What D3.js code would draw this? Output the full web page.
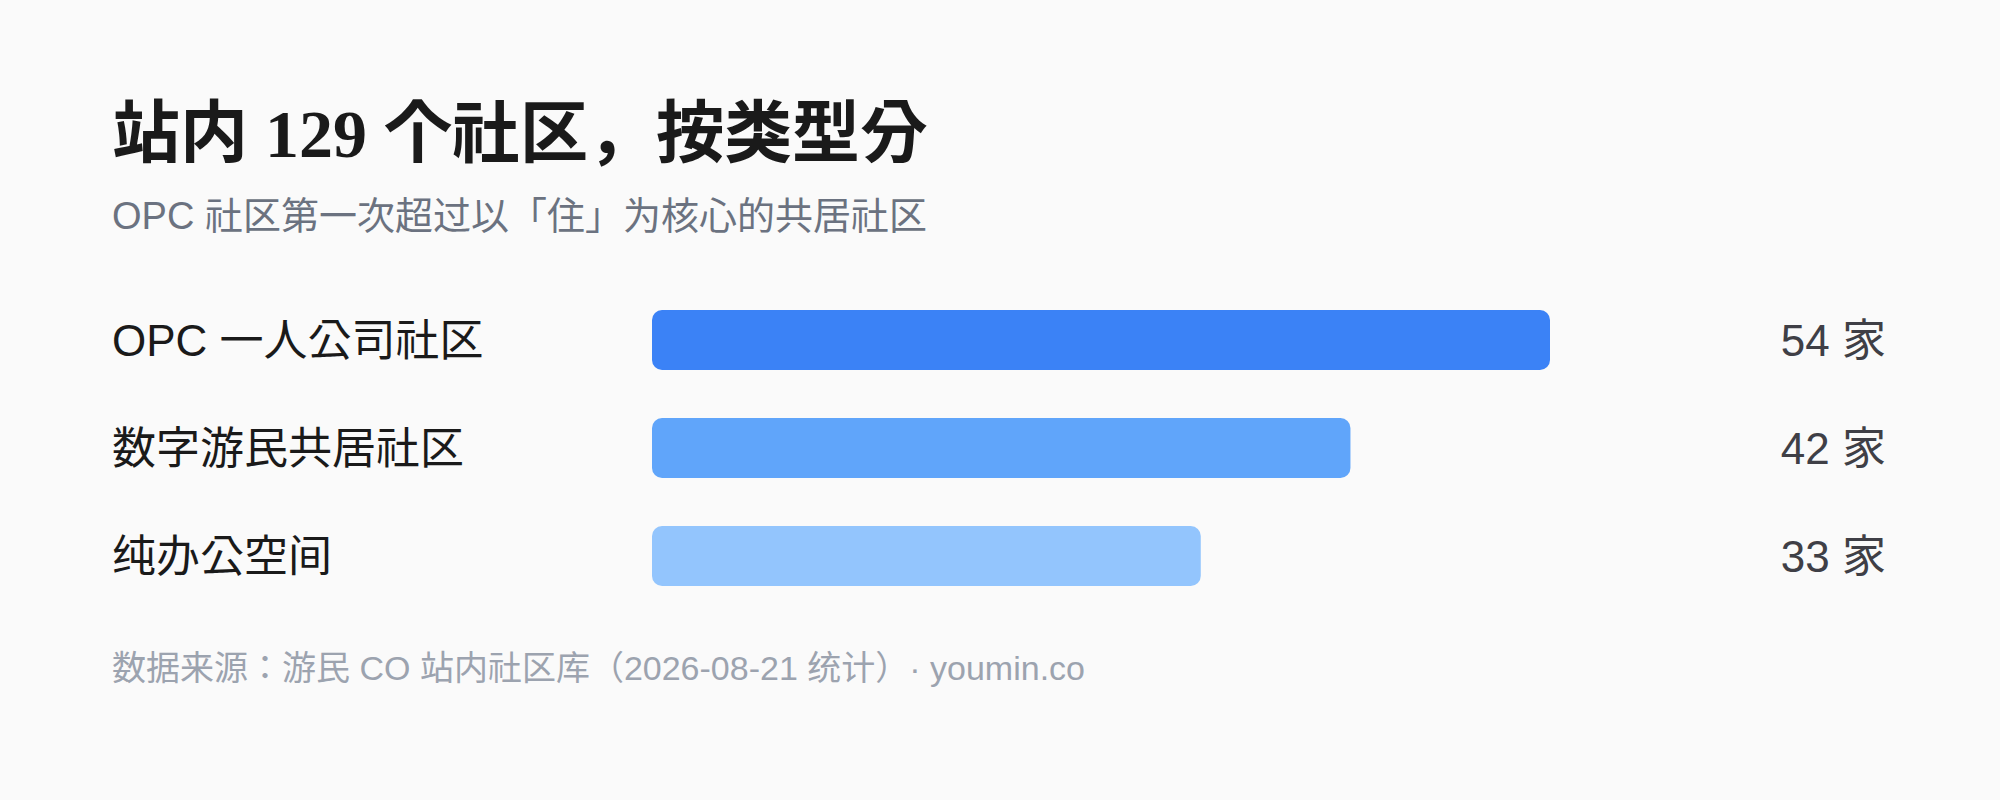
<!DOCTYPE html>
<html>
<head>
<meta charset="utf-8">
<script src="https://cdn.jsdelivr.net/npm/d3@7"></script>
<style>
  html, body { margin: 0; padding: 0; background: #fafafa; }
  svg { display: block; }
  svg text { text-spacing-trim: space-all; }
</style>
</head>
<body>
<svg id="chart" width="2000" height="800"></svg>
<script>
const titleText = "站内 129 个社区，按类型分";
const subtitleText = "OPC 社区第一次超过以「住」为核心的共居社区";
const footerText = "数据来源：游民 CO 站内社区库（2026-08-21 统计）· youmin.co";
const categories = ["OPC 一人公司社区", "数字游民共居社区", "纯办公空间"];
const values = [54, 42, 33];
const unit = "家";
const colors = ["#3b82f6", "#60a5fa", "#93c5fd"];

const svg = d3.select("#chart");
const sans = "'Liberation Sans', Arial, 'Noto Sans CJK KR', sans-serif";
const serif = "'Liberation Serif', 'Times New Roman', 'Noto Sans CJK KR', serif";

svg.append("rect").attr("width", 2000).attr("height", 800).attr("fill", "#fafafa");

svg.append("text")
  .attr("x", 112).attr("y", 157)
  .attr("font-family", serif).attr("font-weight", 700).attr("font-size", 68)
  .attr("fill", "#1a1a1a")
  .text(titleText);

svg.append("text")
  .attr("x", 112).attr("y", 229)
  .attr("font-family", sans).attr("font-size", 38)
  .attr("fill", "#6b7280")
  .text(subtitleText);

const x = d3.scaleLinear().domain([0, d3.max(values)]).range([652, 1550]);
const y = d3.scaleBand().domain(categories).range([286, 610]).paddingInner(48/108).paddingOuter(24/108);

const rows = svg.selectAll("g.row").data(categories).join("g").attr("class", "row");

rows.append("rect")
  .attr("x", x(0))
  .attr("y", d => y(d))
  .attr("width", (d, i) => x(values[i]) - x(0))
  .attr("height", y.bandwidth())
  .attr("rx", 10).attr("ry", 10)
  .attr("fill", (d, i) => colors[i]);

rows.append("text")
  .attr("x", 112)
  .attr("y", d => y(d) + y.bandwidth() / 2)
  .attr("dominant-baseline", "central")
  .attr("font-family", sans).attr("font-size", 44)
  .attr("fill", "#1a1a1a")
  .text(d => d);

rows.append("text")
  .attr("x", 1886)
  .attr("y", d => y(d) + y.bandwidth() / 2)
  .attr("dominant-baseline", "central")
  .attr("text-anchor", "end")
  .attr("font-family", sans).attr("font-size", 44)
  .attr("fill", "#3f3f46")
  .text((d, i) => values[i] + " " + unit);

svg.append("text")
  .attr("x", 112).attr("y", 680)
  .attr("font-family", sans).attr("font-size", 34)
  .attr("fill", "#9ca3af")
  .text(footerText);
</script>
</body>
</html>
